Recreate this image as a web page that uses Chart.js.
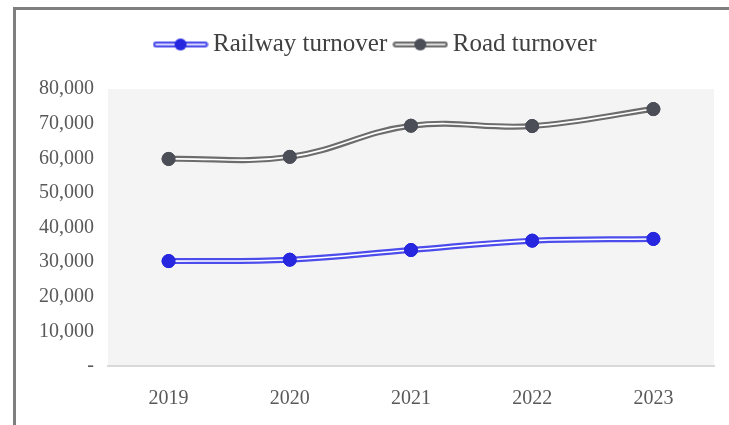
<!DOCTYPE html>
<html>
<head>
<meta charset="utf-8">
<script src="https://cdn.jsdelivr.net/npm/chart.js@4.4.1/dist/chart.umd.min.js"></script>
<style>
html,body{margin:0;padding:0;background:#fff;overflow:hidden;}
#frame{position:absolute;left:13px;top:7px;width:740px;height:440px;border-left:3px solid #7f7f7f;border-top:3px solid #7f7f7f;}
#wrap{position:absolute;left:0;top:0;width:729px;height:425px;}
</style>
</head>
<body>
<div id="frame"></div>
<div id="wrap"><canvas id="turnoverChart"></canvas></div>
<script>
// categories
var years=["2019","2020","2021","2022","2023"];
// series values
var railwayTurnover=[30300,30700,33500,36200,36700];
var roadTurnover=[59800,60400,69400,69300,74200];
// y ticks
var yMin=0;
var yMax=80000;
var yStep=10000;

//线条样式
var railLine="#4c4cec";
var railDot="#2727df";
var roadLine="#6c6c6c";
var roadDot="#4b4e57";

//双线的线条控制器
class DoubleLineController extends Chart.LineController {
	draw(){
		super.draw();
		var meta=this._cachedMeta;
		var ctx=this.chart.ctx;
		var area=this.chart.chartArea;
		var line=meta.dataset;
		ctx.save();
		ctx.beginPath();
		line.path(ctx);
		ctx.lineWidth=1.6;
		ctx.lineCap="round";
		ctx.lineJoin="round";
		ctx.strokeStyle="#ffffff";
		ctx.stroke();
		ctx.restore();
		//重画点
		meta.data.forEach(function(pt){ pt.draw(ctx,area); });
	}
}
DoubleLineController.id="doubleLine";
DoubleLineController.defaults=Chart.LineController.defaults;
Chart.register(DoubleLineController);

//图例图标
function legendIcon(lineColor,dotColor){
	var c=document.createElement("canvas");
	c.width=56;
	c.height=14;
	var g=c.getContext("2d");
	g.lineCap="round";
	g.strokeStyle=lineColor;
	g.lineWidth=6;
	g.beginPath(); g.moveTo(3.5,7); g.lineTo(52.5,7); g.stroke();
	g.strokeStyle="#ffffff";
	g.lineWidth=1.6;
	g.beginPath(); g.moveTo(3.5,7); g.lineTo(52.5,7); g.stroke();
	g.fillStyle=dotColor;
	g.beginPath(); g.arc(28,7,6,0,Math.PI*2); g.fill();
	return c;
}

//绘图区背景
var plotBg={
	id:"plotBg",
	beforeDraw:function(chart){
		var a=chart.chartArea, ctx=chart.ctx;
		ctx.save();
		ctx.fillStyle="#f4f4f4";
		ctx.fillRect(a.left,a.top,a.right-a.left,a.bottom-a.top);
		ctx.restore();
	}
};

//图例高度和位置
var legendBox={
	id:"legendBox",
	beforeLayout:function(chart){
		var lg=chart.legend;
		if(lg && !lg._patched){
			var fit=lg.fit;
			lg.fit=function(){ fit.call(this); this.height=70; };
			lg._patched=true;
		}
	},
	afterLayout:function(chart){
		chart.legend.left=28;
		chart.legend.right=729;
	}
};

var ctx=document.getElementById("turnoverChart").getContext("2d");
var myLineChart=new Chart(ctx,{
	type:"line",
	data:{
		labels:years,
		datasets:[
			{
				type:"doubleLine",
				label:"Railway turnover",
				data:railwayTurnover,
				borderColor:railLine,
				borderWidth:6,
				tension:0.4,
				pointRadius:6.5,
				pointBackgroundColor:railDot,
				pointBorderColor:railDot,
				pointBorderWidth:1,
				fill:false
			},
			{
				type:"doubleLine",
				label:"Road turnover",
				data:roadTurnover,
				borderColor:roadLine,
				borderWidth:6,
				tension:0.4,
				pointRadius:6.5,
				pointBackgroundColor:roadDot,
				pointBorderColor:roadDot,
				pointBorderWidth:1,
				fill:false
			}
		]
	},
	options:{
		responsive:true,
		maintainAspectRatio:false,
		animation:false,
		layout:{padding:{left:0,right:15,top:19,bottom:0}},
		plugins:{
			tooltip:{enabled:false},
			legend:{
				position:"top",
				labels:{
					usePointStyle:true,
					pointStyleWidth:40,
					padding:13,
					color:"#404040",
					font:{family:"'Liberation Serif', serif",size:25},
					generateLabels:function(chart){
						return chart.data.datasets.map(function(ds,i){
							return {
								text:ds.label,
								pointStyle:legendIcon(ds.borderColor,ds.pointBackgroundColor),
								datasetIndex:i,
								hidden:false,
								lineWidth:0,
								fontColor:"#404040"
							};
						});
					}
				}
			}
		},
		scales:{
			x:{
				type:"category",
				offset:true,
				grid:{display:false,drawTicks:false},
				border:{display:true,color:"#d9d9d9",width:2},
				ticks:{color:"#595959",padding:21,font:{family:"'Liberation Serif', serif",size:20}},
				afterFit:function(scale){ scale.height=59; }
			},
			y:{
				type:"linear",
				min:yMin,
				max:yMax,
				grid:{display:false,drawTicks:false},
				border:{display:false},
				ticks:{
					stepSize:yStep,
					color:"#595959",
					padding:14,
					font:{family:"'Liberation Serif', serif",size:20},
					callback:function(v){ return v===0 ? "-" : v.toLocaleString("en-US"); }
				},
				afterFit:function(scale){ scale.width=108; }
			}
		}
	},
	plugins:[plotBg,legendBox]
});
</script>
</body>
</html>
